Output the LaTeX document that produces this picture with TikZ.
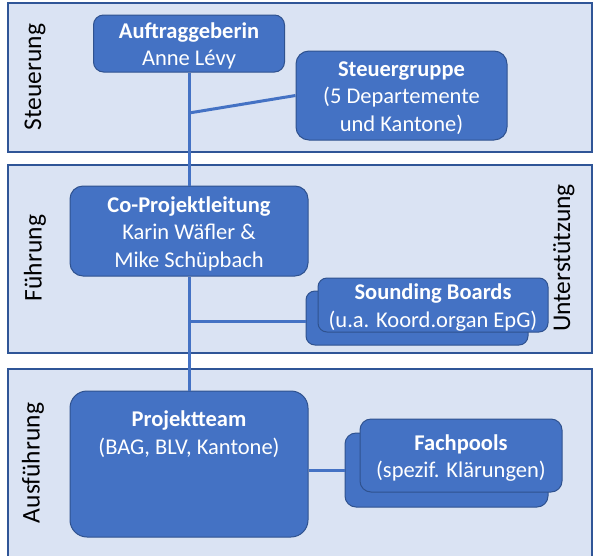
\documentclass[tikz,border=0pt]{standalone}
\usepackage{fontspec}
\setmainfont{Carlito}
\definecolor{bandfill}{HTML}{DAE3F3}
\definecolor{bandline}{HTML}{2F5597}
\definecolor{boxfill}{HTML}{4472C4}
\definecolor{boxline}{HTML}{2F528F}
\tikzset{
  band/.style={fill=bandfill,draw=bandline,line width=1.3pt},
  orgbox/.style={fill=boxfill,draw=boxline,line width=1pt,rounded corners=11pt,inner sep=0pt},
  boxtext/.style={text=white,align=center,inner sep=0pt,font=\fontsize{22.5}{27.5}\selectfont},
  txt/.style={label={[boxtext,yshift=-2.5pt]center:{#1}}},
  conn/.style={draw=boxfill,line width=3pt},
  lbl/.style={rotate=90,font=\fontsize{25.5}{30}\selectfont,inner sep=0pt}
}
\begin{document}
\begin{tikzpicture}[x=1pt,y=-1pt]
\useasboundingbox (0,0) rectangle (600,555);
\clip (0,0) rectangle (600,555);
\fill[white] (0,0) rectangle (600,555);
% bands
\draw[band] (8,3) rectangle (592,152);
\draw[band] (8,165) rectangle (592,353);
\draw[band] (8,369) rectangle (592,570);
% labels
\node[lbl] (lsteu) at (35,77) {Steuerung};
\node[lbl] (lfuehr) at (35,258) {Führung};
\node[lbl] (lausf) at (33,463) {Ausführung};
\node[lbl] (lunter) at (564,258) {Unterstützung};
% boxes
\node[orgbox,minimum width=191pt,minimum height=57pt,rounded corners=10pt,
  txt={\textbf{Auftraggeberin}\\Anne Lévy}] (auf) at (189,43.5) {};
\node[orgbox,minimum width=211pt,minimum height=89pt,rounded corners=13pt,
  txt={\textbf{Steuergruppe}\\(5 Departemente\\und Kantone)}] (sg) at (401.5,95.5) {};
\node[orgbox,minimum width=238pt,minimum height=90pt,rounded corners=13pt,
  txt={\textbf{Co-Projektleitung}\\Karin Wäfler \&\\Mike Schüpbach}] (copl) at (189,231) {};
\node[orgbox,minimum width=222pt,minimum height=54pt,rounded corners=9pt] (sbback) at (417,318) {};
\node[orgbox,minimum width=230pt,minimum height=54pt,rounded corners=9pt,
  txt={\textbf{Sounding Boards}\\(u.a. Koord.organ EpG)}] (sb) at (433,305) {};
\node[orgbox,minimum width=238pt,minimum height=146pt,rounded corners=17pt] (pt) at (189,464) {};
\node[boxtext] (pttext) at (189,434) {\textbf{Projektteam}\\(BAG, BLV, Kantone)};
\node[orgbox,minimum width=203pt,minimum height=74pt,rounded corners=11pt] (fpback) at (446.5,470) {};
\node[orgbox,minimum width=202pt,minimum height=73pt,rounded corners=11pt,
  txt={\textbf{Fachpools}\\(spezif. Klärungen)}] (fp) at (461,455.5) {};
% connectors
\coordinate (j1) at (189,113);
\coordinate (j2) at (189,321);
\draw[conn] (auf.south) -- (copl.north);
\draw[conn] (copl.south) -- (pt.north);
\draw[conn] (j1) -- (sg.west);
\draw[conn] (j2) -- (j2 -| sbback.west);
\draw[conn] (fpback.west -| pt.east) -- (fpback.west);
\end{tikzpicture}
\end{document}
